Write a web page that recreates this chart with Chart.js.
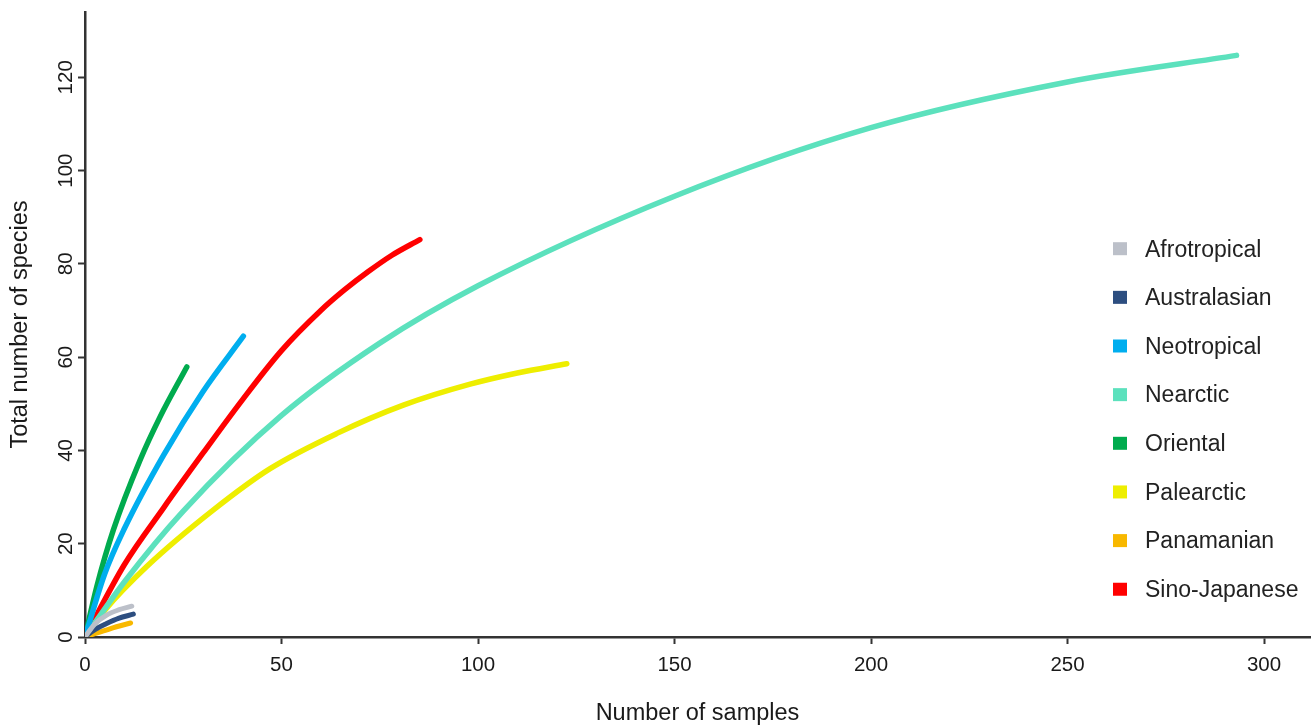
<!DOCTYPE html>
<html>
<head>
<meta charset="utf-8">
<script src="https://cdn.jsdelivr.net/npm/chart.js@4/dist/chart.umd.min.js"></script>
<style>
  html, body { margin: 0; padding: 0; background: #ffffff; }
  canvas { display: block; }
</style>
</head>
<body>
<canvas id="c" width="1316" height="728"></canvas>
<script>
// ---- data ----
const seriesNames = ["Afrotropical", "Australasian", "Neotropical", "Nearctic", "Oriental", "Palearctic", "Panamanian", "Sino-Japanese"];
const seriesColors = ["#bcc0c9", "#2d4e80", "#00aeef", "#5ce1bd", "#00ab4e", "#eeee00", "#f8b800", "#ff0000"];

const afrotropicalX = [0, 2.5, 5.5, 8.5, 11.9];
const afrotropicalY = [0, 2.8, 4.7, 5.8, 6.6];
const australasianX = [0, 2.5, 5.5, 8.5, 12.3];
const australasianY = [0, 1.6, 2.9, 4.0, 4.9];
const neotropicalX = [0, 5, 10, 20, 30, 40.3];
const neotropicalY = [0, 13.5, 23.2, 39, 52.6, 64.5];
const nearcticX = [0, 10, 25, 50, 75, 100, 150, 200, 250, 293];
const nearcticY = [0, 11.8, 27, 47.5, 63, 75.3, 94.5, 109.2, 119, 124.7];
const orientalX = [0, 3, 7.2, 14, 19.1, 25.9];
const orientalY = [0, 10.8, 22.9, 37.9, 47.2, 57.9];
const palearcticX = [0, 5, 15.7, 32.6, 47.1, 64, 81, 98, 110, 122.6];
const palearcticY = [0, 5.7, 15.1, 27.2, 36.1, 43.6, 49.7, 54.2, 56.6, 58.6];
const panamanianX = [0, 2.5, 4.7, 8.0, 11.6];
const panamanianY = [0, 0.7, 1.3, 2.2, 3.0];
const sinoJapaneseX = [0, 10, 20, 30, 40, 50, 60, 66, 72, 78, 85.2];
const sinoJapaneseY = [0, 15.5, 27.7, 39.4, 50.8, 61.4, 70.0, 74.4, 78.3, 81.8, 85.2];

const xTickValues = [0, 50, 100, 150, 200, 250, 300];
const yTickValues = [0, 20, 40, 60, 80, 100, 120];
const xTitle = "Number of samples";
const yTitle = "Total number of species";
// ---------------------------------------

const seriesX = [afrotropicalX, australasianX, neotropicalX, nearcticX, orientalX, palearcticX, panamanianX, sinoJapaneseX];
const seriesY = [afrotropicalY, australasianY, neotropicalY, nearcticY, orientalY, palearcticY, panamanianY, sinoJapaneseY];

const datasets = seriesNames.map((name, i) => ({
  label: name,
  data: seriesX[i].map((x, j) => ({ x: x, y: seriesY[i][j] })),
  borderColor: seriesColors[i],
  backgroundColor: seriesColors[i],
  borderWidth: (i === 0 || i === 1 || i === 6) ? 5 : 5.5,
  borderCapStyle: 'round',
  borderJoinStyle: 'round',
  pointRadius: 0,
  pointHoverRadius: 0,
  fill: false,
  cubicInterpolationMode: 'monotone'
}));

const FONT = "'Liberation Sans', Arial, Helvetica, sans-serif";
const AXIS_COLOR = "#333333";
const TEXT_COLOR = "#1a1a1a";

const yLabelPlugin = {
  id: 'yLabels',
  afterDraw(chart) {
    const ctx = chart.ctx;
    const ys = chart.scales.y;
    ctx.save();
    ctx.fillStyle = TEXT_COLOR;
    ctx.font = "20.5px " + FONT;
    ctx.textAlign = 'center';
    ctx.textBaseline = 'alphabetic';
    ys.ticks.forEach(t => {
      const py = ys.getPixelForValue(t.value);
      ctx.save();
      ctx.translate(71.5, py);
      ctx.rotate(-Math.PI / 2);
      ctx.fillText(String(t.value), 0, 0);
      ctx.restore();
    });
    ctx.restore();
  }
};

const legendPlugin = {
  id: 'customLegend',
  afterDraw(chart) {
    const ctx = chart.ctx;
    ctx.save();
    ctx.font = "23px " + FONT;
    ctx.textAlign = 'left';
    ctx.textBaseline = 'alphabetic';
    chart.data.datasets.forEach((ds, i) => {
      const cy = 248.7 + i * 48.65;
      ctx.fillStyle = ds.borderColor;
      ctx.fillRect(1113, cy - 6.5, 14, 13);
      ctx.fillStyle = "#222222";
      ctx.fillText(ds.label, 1145, cy + 7.8);
    });
    ctx.restore();
  }
};

new Chart(document.getElementById('c'), {
  type: 'line',
  data: { datasets: datasets },
  plugins: [yLabelPlugin, legendPlugin],
  options: {
    responsive: false,
    devicePixelRatio: 1,
    animation: false,
    events: [],
    layout: { padding: { top: 12, right: 6, left: 0, bottom: 0 } },
    plugins: {
      legend: { display: false },
      tooltip: { enabled: false },
      title: { display: false }
    },
    scales: {
      x: {
        type: 'linear',
        min: 0,
        max: 311.7,
        afterBuildTicks: (s) => { s.ticks = xTickValues.map(v => ({ value: v })); },
        afterFit: (s) => { s.height = 91; },
        ticks: {
          font: { size: 20.5, family: FONT },
          color: TEXT_COLOR,
          padding: 9,
          maxRotation: 0,
          autoSkip: false
        },
        grid: {
          display: true,
          drawOnChartArea: false,
          drawTicks: true,
          tickLength: 7,
          tickColor: AXIS_COLOR,
          tickWidth: 2
        },
        border: { display: true, color: AXIS_COLOR, width: 2.5 },
        title: {
          display: true,
          text: xTitle,
          font: { size: 23.5, family: FONT },
          color: TEXT_COLOR,
          padding: { top: 0, bottom: 0 }
        }
      },
      y: {
        type: 'linear',
        min: 0,
        max: 134,
        afterBuildTicks: (s) => { s.ticks = yTickValues.map(v => ({ value: v })); },
        afterFit: (s) => { s.width = 85; },
        ticks: { display: false },
        grid: {
          display: true,
          drawOnChartArea: false,
          drawTicks: true,
          tickLength: 7,
          tickColor: AXIS_COLOR,
          tickWidth: 2
        },
        border: { display: true, color: AXIS_COLOR, width: 2.5 },
        title: {
          display: true,
          text: yTitle,
          font: { size: 23.5, family: FONT },
          color: TEXT_COLOR,
          padding: { top: 6, bottom: 0 }
        }
      }
    }
  }
});
</script>
</body>
</html>
